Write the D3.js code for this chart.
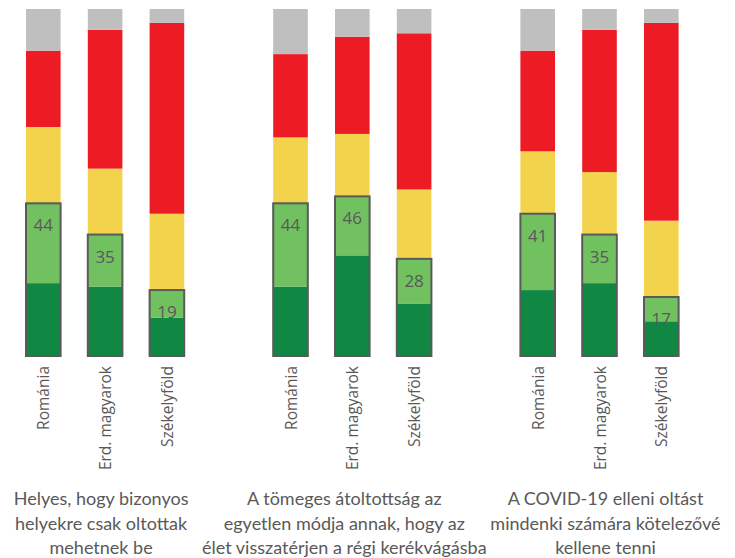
<!DOCTYPE html>
<html>
<head>
<meta charset="utf-8">
<script src="https://cdn.jsdelivr.net/npm/d3@7"></script>
<style>
  html, body { margin: 0; padding: 0; background: #fff; }
  svg { display: block; }
</style>
</head>
<body>
<svg id="chart" width="735" height="558"></svg>
<script>
// ---- data ----
const categories = ["Románia", "Erd. magyarok", "Székelyföld"];
const groupTitles = [
  ["Helyes, hogy bizonyos", "helyekre csak oltottak", "mehetnek be"],
  ["A tömeges átoltottság az", "egyetlen módja annak, hogy az", "élet visszatérjen a régi kerékvágásba"],
  ["A COVID-19 elleni oltást", "mindenki számára kötelezővé", "kellene tenni"]
];
const darkGreen  = [21, 20, 11, 20, 29, 15, 19, 21, 10];
const lightGreen = [23, 15,  8, 24, 17, 13, 22, 14,  7];
const yellow     = [22, 19, 22, 19, 18, 20, 18, 18, 22];
const red        = [22, 40, 55, 24, 28, 45, 29, 41, 57];
const gray       = [12,  6,  4, 13,  8,  7, 12,  6,  4];
const agreeTotals = [44, 35, 19, 44, 46, 28, 41, 35, 17];

// ---- layout ----
const colors = ["#108843", "#71c161", "#f3d34c", "#ed1c24", "#bfbfbf"];
const seriesKeys = ["darkGreen", "lightGreen", "yellow", "red", "gray"];
const seriesVals = [darkGreen, lightGreen, yellow, red, gray];
const titleDx = [-4, -8, 6];

const rows = [];
const domain = [];
groupTitles.forEach((t, g) => {
  categories.forEach((c, i) => {
    const idx = g * categories.length + i;
    const key = g + "|" + c;
    domain.push(key);
    const row = { key, group: g, cat: c, total: agreeTotals[idx] };
    seriesKeys.forEach((s, k) => row[s] = seriesVals[k][idx]);
    rows.push(row);
  });
  if (g < groupTitles.length - 1) domain.push("gap" + g);
});

const svg = d3.select("#chart");
const step = 61.8;
const r0 = 26 - 0.22 * step;
const x = d3.scaleBand().domain(domain)
  .range([r0, r0 + 11 * step]).paddingInner(0.44).paddingOuter(0.22);
const y = d3.scaleLinear().domain([0, 100]).range([356, 9]);

const stack = d3.stack().keys(seriesKeys);
const stacked = stack(rows);

svg.append("g").selectAll("g").data(stacked).join("g")
  .attr("fill", (d, i) => colors[i])
  .selectAll("rect").data(d => d).join("rect")
  .attr("x", d => x(d.data.key))
  .attr("width", x.bandwidth())
  .attr("y", d => y(d[1]))
  .attr("height", d => y(d[0]) - y(d[1]));

// outline around agree segments
svg.append("g").selectAll("rect").data(rows).join("rect")
  .attr("x", d => x(d.key))
  .attr("width", x.bandwidth())
  .attr("y", d => y(d.darkGreen + d.lightGreen))
  .attr("height", d => y(0) - y(d.darkGreen + d.lightGreen))
  .attr("fill", "none")
  .attr("stroke", "#5a5a5a")
  .attr("stroke-width", 2);

// total labels
svg.append("g").selectAll("text").data(rows).join("text")
  .attr("x", d => x(d.key) + x.bandwidth() / 2)
  .attr("y", d => y(d.darkGreen + d.lightGreen) + 28)
  .attr("text-anchor", "middle")
  .attr("font-family", "'Open Sans', sans-serif")
  .attr("font-size", 17)
  .attr("fill", "#595959")
  .text(d => d.total);

// category labels (rotated)
svg.append("g").selectAll("text").data(rows).join("text")
  .attr("transform", d => `translate(${x(d.key) + x.bandwidth() / 2 + 6},366) rotate(-90)`)
  .attr("text-anchor", "end")
  .attr("font-family", "'Open Sans', sans-serif")
  .attr("font-size", 15.5)
  .attr("fill", "#595959")
  .text(d => d.cat);

// group titles
const tg = svg.append("g");
groupTitles.forEach((lines, g) => {
  const mid = x(g + "|" + categories[1]) + x.bandwidth() / 2 + titleDx[g];
  const t = tg.append("text")
    .attr("text-anchor", "middle")
    .attr("font-family", "Lato, sans-serif")
    .attr("font-size", 18)
    .attr("fill", "#595959");
  lines.forEach((ln, i) => {
    t.append("tspan").attr("x", mid).attr("y", 505 + i * 24.5).text(ln);
  });
});
</script>
</body>
</html>
